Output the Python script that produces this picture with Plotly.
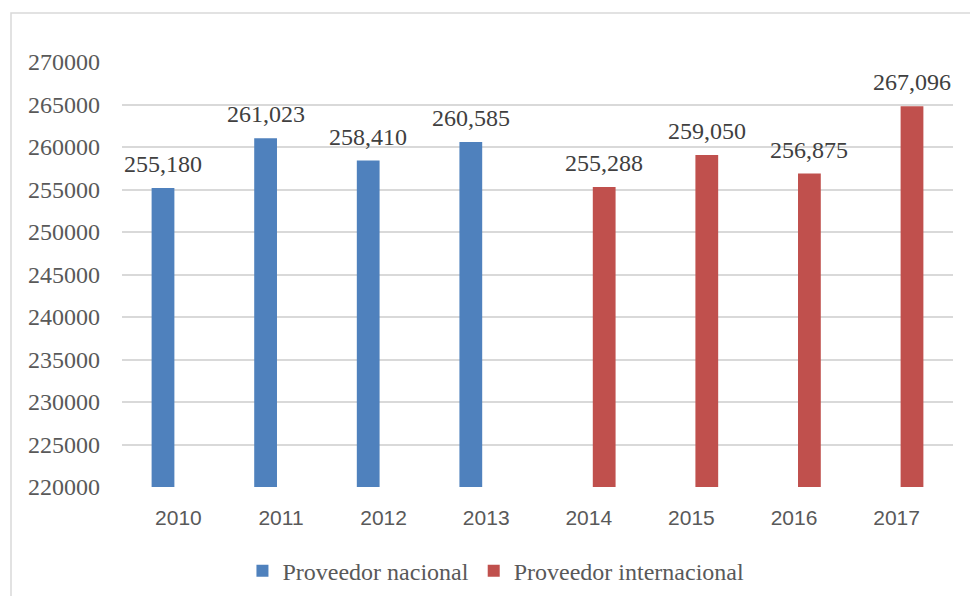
import plotly.graph_objects as go

years = ["2010", "2011", "2012", "2013", "2014", "2015", "2016", "2017"]
nacional = [255180, 261023, 258410, 260585, None, None, None, None]
internacional = [None, None, None, None, 255288, 259050, 256875, 264800]
nacional_labels = ["255,180", "261,023", "258,410", "260,585", "", "", "", ""]
internacional_labels = ["", "", "", "", "255,288", "259,050", "256,875", "267,096"]

BLUE = "#4F81BD"
RED = "#C0504D"
SERIF = "Liberation Serif, Times New Roman, serif"

fig = go.Figure()
fig.add_trace(go.Bar(x=years, y=nacional, name="Proveedor nacional",
                     marker=dict(color=BLUE, line=dict(width=0))))
fig.add_trace(go.Bar(x=years, y=internacional, name="Proveedor internacional",
                     marker=dict(color=RED, line=dict(width=0))))

# data labels
for i, yr in enumerate(years):
    for vals, labs, off in ((nacional, nacional_labels, -0.15), (internacional, internacional_labels, 0.15)):
        if vals[i] is not None and labs[i]:
            fig.add_annotation(x=i + off, y=vals[i], xref="x", yref="y", text=labs[i],
                               showarrow=False, yanchor="bottom", yshift=9,
                               font=dict(family=SERIF, size=24, color="#404040"))

# outer frame
fig.add_shape(type="rect", xref="paper", yref="paper",
              x0=(11 - 122) / 831, x1=(980 - 122) / 831,
              y0=(487 - 610) / 425, y1=(487 - 13) / 425,
              line=dict(color="#D9D9D9", width=1.5), fillcolor="rgba(0,0,0,0)", layer="below")

fig.update_layout(
    width=970, height=596,
    margin=dict(l=122, r=17, t=62, b=109, autoexpand=False),
    paper_bgcolor="white", plot_bgcolor="white",
    barmode="group", bargap=0.40, bargroupgap=0.26,
    showlegend=True,
    legend=dict(orientation="h", x=0.45, xanchor="center", y=-0.198, yanchor="middle",
                font=dict(family=SERIF, size=24, color="#595959"),
                itemwidth=30, tracegroupgap=0),
    xaxis=dict(type="category", showgrid=False, showline=False, zeroline=False,
               tickfont=dict(family="Liberation Sans, Arial, sans-serif", size=21, color="#595959"),
               ticks="", ticklabelstandoff=16, automargin=False),
    yaxis=dict(range=[220000, 270000], dtick=5000, tick0=220000,
               showgrid=True, gridcolor="#D9D9D9", gridwidth=1.5,
               zeroline=False, showline=False, tickformat="d",
               tickfont=dict(family=SERIF, size=24, color="#595959"),
               ticks="", ticklabelstandoff=21, automargin=False),
)
fig.write_html("out.html")
